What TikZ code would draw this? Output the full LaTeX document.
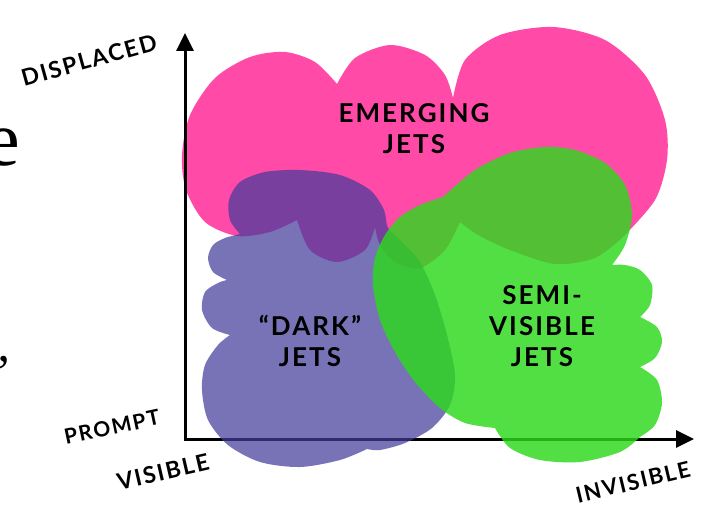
\documentclass[tikz,border=0pt]{standalone}
\usepackage{fontspec}
\usetikzlibrary{arrows.meta}
\newfontfamily\handfont[LetterSpace=8]{Lato}
\newfontfamily\serifbig{Liberation Serif}
\definecolor{pinkblob}{HTML}{FF4AA8}
\definecolor{blueblob}{RGB}{66,59,155}
\definecolor{greenblob}{RGB}{44,217,28}
\begin{document}
\begin{tikzpicture}[x=1pt,y=-1pt,
  axis/.style={line width=3pt,{Triangle[length=18pt,width=17pt]}-{Triangle[length=18pt,width=17pt]}},
  blobtext/.style={font=\handfont\bfseries\fontsize{26}{31}\selectfont,align=center,text=black,inner sep=0pt},
  axislabel/.style={font=\handfont\bfseries\fontsize{23}{25}\selectfont,inner sep=0pt},
  pinkfill/.style={fill=pinkblob},
  bluefill/.style={fill=blueblob,fill opacity=0.713},
  greenfill/.style={fill=greenblob,fill opacity=0.82}]
\useasboundingbox (0,0) rectangle (704,511);
\clip (0,0) rectangle (704,511);
\fill[white] (0,0) rectangle (704,511);
% cut-off slide text at the left edge
\node[font=\serifbig\fontsize{78}{80}\selectfont,anchor=base east,inner sep=0pt] (cute) at (20,165) {e};
\node[font=\serifbig\fontsize{50}{52}\selectfont,anchor=base east,inner sep=0pt] (cutq) at (10,389) {”};
% pink blob
\fill[pinkfill]
  plot[smooth] coordinates {(297,220) (270,232) (237,236) (205,222) (186,190) (182,155) (190,115) (215,78) (250,57) (285,52) (315,62) (337,84)}
  -- plot[smooth] coordinates {(337,84) (355,58) (390,45) (425,55) (445,75) (453,98)}
  -- plot[smooth] coordinates {(453,98) (465,60) (500,35) (553,27) (605,40) (645,75) (665,120) (667,160) (655,200) (623,237)}
  -- plot[smooth] coordinates {(623,237) (595,258) (555,264) (510,250) (478,235) (460,222)}
  -- plot[smooth] coordinates {(460,222) (445,250) (420,268) (395,262) (380,245) (375,227)}
  -- plot[smooth] coordinates {(375,227) (365,250) (337,262) (310,250) (297,220)}
  -- cycle;
% axes
\coordinate (ytop) at (185,33);
\coordinate (o) at (185,439);
\coordinate (xend) at (694,439);
\draw[axis] (ytop) -- (o) -- (xend);
% blue blob
\fill[bluefill]
  plot[smooth] coordinates {(240,234) (230,220) (229,200) (240,182) (265,172) (300,170) (340,175) (370,190) (384,210) (388,228) (402,242) (420,262) (435,295) (447,335) (455,375) (450,405) (432,428) (405,443) (380,450) (367,449)}
  -- plot[smooth] coordinates {(367,449) (340,460) (300,467) (260,462) (228,445) (208,420) (202,390) (205,365) (218,345) (230,335)}
  -- plot[smooth] coordinates {(230,335) (212,328) (202,310) (205,292) (218,283) (227,280)}
  -- plot[smooth] coordinates {(227,280) (213,272) (208,258) (213,245) (225,238) (240,234)}
  -- cycle;
% green blob
\fill[greenfill]
  plot[smooth] coordinates {(443,197) (420,205) (400,217) (385,235) (375,258) (373,285) (380,320) (395,352) (415,382) (440,408) (465,423) (495,428)}
  -- plot[smooth] coordinates {(495,428) (510,448) (540,460) (580,462) (620,452) (640,437)}
  -- plot[smooth] coordinates {(640,437) (655,425) (662,403) (657,380) (640,367)}
  -- plot[smooth] coordinates {(640,367) (655,358) (662,342) (657,327) (640,317)}
  -- plot[smooth] coordinates {(640,317) (650,305) (652,285) (640,270) (625,265) (612,265)}
  -- plot[smooth] coordinates {(612,265) (625,245) (632,215) (625,185) (605,163) (575,150) (545,147) (510,153) (475,170) (443,197)}
  -- cycle;
% blob labels
\node[blobtext] (emerging) at (414,129) {EMERGING\\JETS};
\node[blobtext] (dark) at (310,341) {“DARK”\\JETS};
\node[blobtext] (semi) at (542,326) {SEMI-\\VISIBLE\\JETS};
% axis labels
\node[axislabel,rotate=15.5] (displaced) at (89,60) {DISPLACED};
\node[axislabel,rotate=12,font=\handfont\bfseries\fontsize{21}{23}\selectfont] (prompt) at (112,427) {PROMPT};
\node[axislabel,rotate=13] (visible) at (163,472) {VISIBLE};
\node[axislabel,rotate=13.4,font=\handfont\bfseries\fontsize{22}{24}\selectfont] (invisible) at (633,482) {INVISIBLE};
\end{tikzpicture}
\end{document}
